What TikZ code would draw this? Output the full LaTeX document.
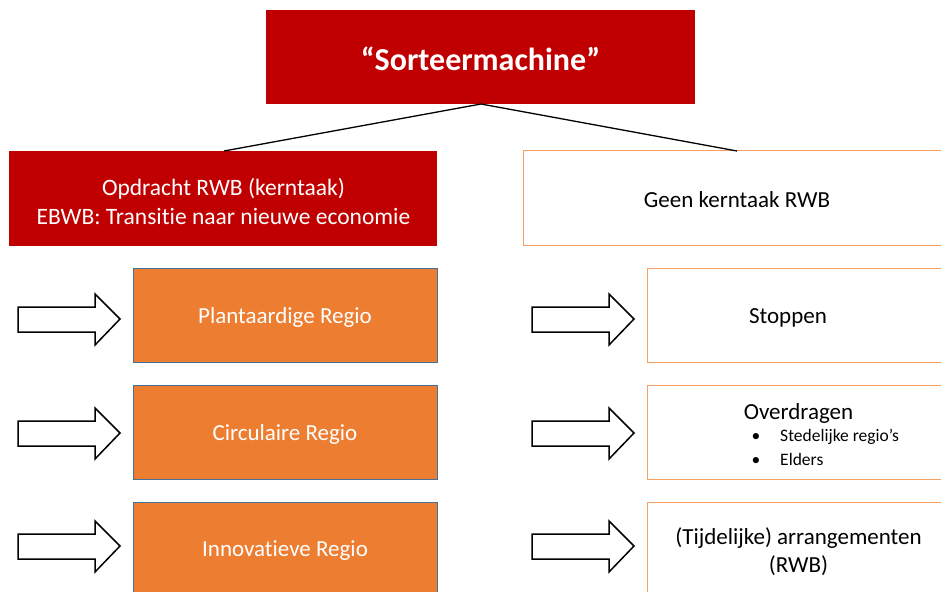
\documentclass[tikz,border=0pt]{standalone}
\usepackage{fontspec}
\setmainfont{Carlito}[Ligatures=NoCommon]
\definecolor{darkred}{HTML}{C00000}
\definecolor{orng}{HTML}{ED7D31}
\definecolor{bluebd}{HTML}{41719C}
\definecolor{orngbd}{HTML}{F4A064}
\begin{document}
\begin{tikzpicture}[x=1bp,y=-1bp,
  redbox/.style={fill=darkred,draw=none,text=white},
  orgbox/.style={fill=orng,draw=bluebd,line width=1bp,text=white},
  whbox/.style={fill=white,draw=orngbd,line width=1bp,text=black},
  fat/.style={draw=black,line width=1.5bp,fill=white,line join=miter},
  conn/.style={draw=black,line width=1.3bp},
  txt/.style={font=\fontsize{23bp}{28bp}\selectfont}]
\useasboundingbox (0,0) rectangle (941,592);
\clip (0,0) rectangle (941,592);
% top
\path[redbox] (266,10) rectangle (695,104);
\node[text=white,font=\fontsize{32bp}{36bp}\selectfont\bfseries] (top) at (480.5,59) {“Sorteermachine”};
\coordinate (topb) at (481,104);
% second row
\path[redbox] (9,151) rectangle (437,246);
\coordinate (lt) at (224,151);
\node[text=white,align=center,font=\fontsize{23.5bp}{29bp}\selectfont] (opd) at (223.5,201) {Opdracht RWB (kerntaak)\\EBWB: Transitie naar nieuwe economie};
\path[whbox] (523,151) rectangle (950,246);
\coordinate (rt) at (737,151);
\node[txt] (geen) at (737,200) {Geen kerntaak RWB};
\draw[conn] (topb) -- (lt);
\draw[conn] (topb) -- (rt);
% left boxes
\path[orgbox] (133,268) rectangle (437,362);
\node[txt,text=white] (pl) at (285,317) {Plantaardige Regio};
\path[orgbox] (133,385) rectangle (437,479);
\node[txt,text=white] (ci) at (285,434) {Circulaire Regio};
\path[orgbox] (133,502) rectangle (437,600);
\node[txt,text=white] (in) at (285,551) {Innovatieve Regio};
% right boxes
\path[whbox] (647,268) rectangle (950,362);
\node[txt] (st) at (788,318) {Stoppen};
\path[whbox] (647,385) rectangle (950,479);
\node[txt] (ov) at (798.5,413) {Overdragen};
\node[anchor=west,font=\fontsize{17.5bp}{22bp}\selectfont] (b1) at (748,437) {•\hspace{20bp}Stedelijke regio’s};
\node[anchor=west,font=\fontsize{17.5bp}{22bp}\selectfont] (b2) at (748,459) {•\hspace{20bp}Elders};
\path[whbox] (647,502) rectangle (950,600);
\node[txt,align=center] (ti) at (798.5,552) {(Tijdelijke) arrangementen\\(RWB)};
% block arrows
\foreach \cx/\cy in {18/319,18/433,18/546,532/319,532/433,532/546}{
  \draw[fat] (\cx,\cy-12) -- ++(77,0) -- ++(0,-13) -- ++(25,25) -- ++(-25,26) -- ++(0,-13) -- ++(-77,0) -- cycle;
}
\end{tikzpicture}
\end{document}
